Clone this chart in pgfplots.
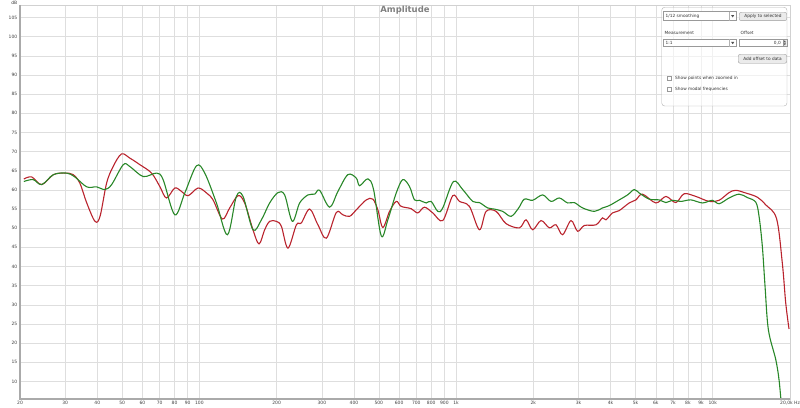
\documentclass[border=0pt]{standalone}
\usepackage{pgfplots}
\pgfplotsset{compat=1.18}
\usepackage{fontspec}
\setmainfont{DejaVu Sans}

\definecolor{curvered}{RGB}{185,35,45}
\definecolor{curvegreen}{RGB}{40,135,40}
\definecolor{gridgray}{RGB}{222,222,222}
\definecolor{framegray}{RGB}{170,170,170}

\begin{document}
\begin{tikzpicture}
\begin{axis}[
    scale only axis,
    width=770bp, height=394bp,
    xmode=log,
    xmin=20, xmax=20000,
    ymin=5.4, ymax=108.3,
    axis line style={draw=gridgray!80!black!60},
    tick style={draw=none},
    grid=major,
    major grid style={draw=gridgray, line width=0.6bp},
    xtick={20,30,40,50,60,70,80,90,100,200,300,400,500,600,700,800,900,1000,2000,3000,4000,5000,6000,7000,8000,9000,10000,20000},
    xticklabels={20,30,40,50,60,70,80,90,100,200,300,400,500,600,700,800,900,1k,2k,3k,4k,5k,6k,7k,8k,9k,10k,{20,0k Hz}},
    ytick={10,15,...,105},
    /pgf/number format/assume math mode=true,
    ticklabel style={font=\fontsize{4.5}{5}\selectfont, text=black!75},
    xticklabel style={inner sep=1bp, yshift=-1bp},
    yticklabel style={inner sep=1bp, xshift=-1.5bp},
    every axis plot/.append style={line width=1.1bp, smooth, tension=0.55},
]
% red measurement
\addplot[curvered] coordinates {
(20.7,62.85) (22.2,63.4) (24.3,61.4) (27.0,64.0) (29.9,64.4) (32.2,64.0) (34.2,61.8) (36.4,56.6) (39.2,51.8) (41.0,53.1)
(43.5,61.8) (46.1,66.1) (49.7,69.4) (53.6,68.3) (58.6,66.6) (65.1,64.4) (70.1,60.9) (74.4,57.9) (80.2,60.5) (85.2,59.6)
(90.4,58.5) (98.8,60.5) (106.6,59.2) (113.0,57.4) (122.9,52.4) (131.2,55.3) (141.4,58.5) (150.1,56.6) (161.7,49.6) (170.7,45.9)
(179.6,49.6) (187.8,51.8) (199.4,51.8) (208.6,50.5) (221.3,44.8) (238.7,50.9) (249.6,51.4) (268.8,55.0) (289.5,50.9) (312.3,47.4)
(341.5,54.1) (362.3,53.5) (384.6,53.1) (408.4,54.8) (446.7,57.4) (473.9,57.6) (495.7,54.8) (518.4,50.2) (550.5,54.4) (584.6,57.0)
(611.2,55.7) (668.6,55.1) (709.1,54.0) (753.0,55.5) (811.2,54.0) (887.3,52.0) (970.6,58.5) (1031,57.0) (1127,55.7) (1233,49.6)
(1309,54.4) (1432,54.4) (1566,51.2) (1765,50.1) (1873,52.2) (1988,49.6) (2143,52.0) (2308,50.1) (2451,50.9) (2600,48.3)
(2804,52.0) (2975,49.2) (3158,50.7) (3508,50.9) (3721,52.7) (3836,52.2) (4070,54.0) (4320,54.6) (4726,56.6) (5018,57.4)
(5325,58.9) (6004,56.6) (6568,58.3) (7184,56.7) (7737,59.0) (8594,58.3) (9681,57.0) (10586,57.3) (11577,59.3) (12294,59.9)
(13444,59.2) (14924,58.1) (16090,56.1) (17727,52.5) (18666,40.9) (19245,30.5) (19822,23.7)
};
% green measurement
\addplot[curvegreen] coordinates {
(20.7,62.2) (22.5,62.7) (24.3,61.4) (27.0,64.0) (30.4,64.4) (32.7,63.4) (36.4,60.8) (39.8,60.8) (42.8,60.1) (45.5,61.4)
(50.5,66.6) (53.6,66.1) (60.4,63.5) (68.1,64.4) (72.2,62.7) (80.2,53.5) (87.7,59.2) (97.4,66.3) (104.9,64.4) (116.5,56.6)
(128.6,48.3) (139.3,58.3) (147.9,58.3) (161.7,49.6) (174.4,52.2) (187.8,56.6) (202.3,59.3) (214.8,58.7) (230.2,51.8) (245.8,56.6)
(264.8,58.7) (281.1,58.9) (294.0,59.9) (321.6,55.5) (346.4,59.6) (378.8,64.0) (408.4,63.1) (420.8,61.1) (453.3,62.9) (477.0,60.1)
(511.1,48.0) (542.2,52.2) (584.6,59.2) (620.0,62.7) (658.4,60.9) (688.6,57.4) (720.2,57.3) (764.8,56.6) (799.8,57.0) (848.7,54.4)
(887.3,55.3) (976.6,62.2) (1061,60.1) (1161,57.0) (1233,56.7) (1328,55.3) (1410,55.0) (1519,54.4) (1638,53.1) (1754,55.3)
(1845,57.6) (1988,57.3) (2174,58.7) (2344,57.0) (2524,57.9) (2720,56.6) (2888,56.7) (3112,55.3) (3456,54.4) (3721,55.3)
(3951,55.9) (4320,57.4) (4656,58.7) (4943,60.1) (5170,59.2) (5656,57.6) (6186,57.4) (6568,56.7) (6966,57.3) (7511,57.0)
(8218,57.4) (9121,56.6) (9973,57.3) (10586,56.4) (11577,57.9) (12668,58.9) (13646,58.0) (14708,56.8) (15150,53.1) (15606,45.2)
(15988,34.8) (16470,23.5) (17600,15.7) (18126,10.4) (18500,4.0)
};
\end{axis}

% heavier left and bottom frame
\draw[framegray, line width=1.5bp] (0,394bp) -- (0,0) -- (770bp,0);
\node[font=\fontsize{4.5}{5}\selectfont, text=black!75, anchor=south east, inner sep=0.5bp] at (-2bp,394bp) {dB};
\node[font=\bfseries\fontsize{8.5}{9}\selectfont, text=black!50] at (385bp,388.5bp) {Amplitude};

% settings panel (pixel coordinates of the screenshot)
\begin{scope}[shift={(-20bp,399bp)}, x=1bp, y=-1bp, font=\fontsize{4.3}{5}\selectfont, text=black!80]
\draw[rounded corners=3bp, draw=black!30, fill=white, fill opacity=0.6] (661.7,7.3) rectangle (787,106);
\draw[black!40, fill=white] (663.3,11.7) rectangle (736,20.7);
\node[anchor=west, inner sep=1bp] at (664.5,16.2) {1/12 smoothing};
\draw[black!30] (729.5,11.7) -- (729.5,20.7);
\fill[black!70] (731.2,15.2) -- (734.2,15.2) -- (732.7,17.4) -- cycle;
\draw[rounded corners=2bp, black!40, fill=black!8] (739.3,12.3) rectangle (786.7,20.7);
\node[inner sep=0pt] at (763,16.5) {Apply to selected};
\node[anchor=west, inner sep=1bp] at (663.5,33.3) {Measurement};
\node[anchor=west, inner sep=1bp] at (739.5,33.3) {Offset};
\draw[black!40, fill=white] (663.3,39) rectangle (736,46.7);
\node[anchor=west, inner sep=1bp] at (664.5,42.9) {1:1};
\draw[black!30] (729.5,39) -- (729.5,46.7);
\fill[black!70] (731.2,42) -- (734.2,42) -- (732.7,44.2) -- cycle;
\draw[black!40, fill=white] (739.3,39) rectangle (783,46.7);
\node[anchor=east, inner sep=1bp] at (782,42.9) {0,0};
\draw[black!40, fill=black!8] (783,39) rectangle (786.7,46.7);
\fill[black!70] (783.8,42.3) -- (785.9,42.3) -- (784.85,40.3) -- cycle;
\fill[black!70] (783.8,43.4) -- (785.9,43.4) -- (784.85,45.4) -- cycle;
\draw[rounded corners=2bp, black!40, fill=black!8] (738.3,54.3) rectangle (786.7,63.3);
\node[inner sep=0pt] at (762.5,58.8) {Add offset to data};
\draw[black!40, fill=white] (666.7,76) rectangle (670.7,80.2);
\node[anchor=west, inner sep=1bp] at (674,78.2) {Show points when zoomed in};
\draw[black!40, fill=white] (666.7,87.5) rectangle (670.7,91.7);
\node[anchor=west, inner sep=1bp] at (674,89.7) {Show modal frequencies};
\end{scope}

\pgfresetboundingbox
\useasboundingbox (-20bp,-9bp) rectangle (780bp,399bp);
\end{tikzpicture}
\end{document}
